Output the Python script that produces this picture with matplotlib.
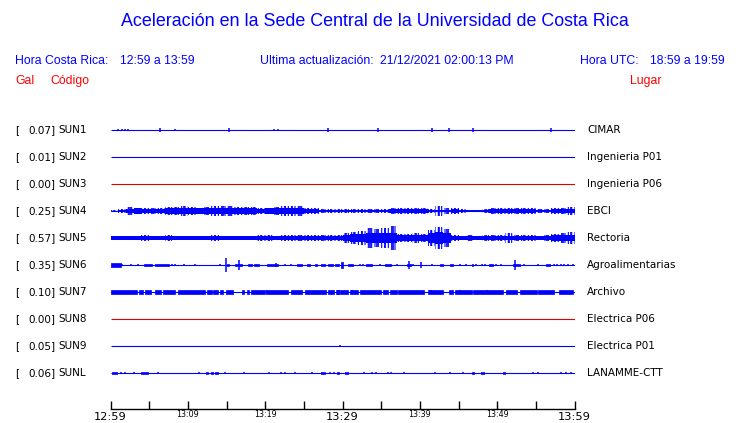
import numpy as np
import matplotlib
matplotlib.use("Agg")
import matplotlib.pyplot as plt

# ---------------- data ----------------
title = "Aceleración en la Sede Central de la Universidad de Costa Rica"
hora_cr = "12:59 a 13:59"
hora_utc = "18:59 a 19:59"
actualizacion = "21/12/2021 02:00:13 PM"

codes = ["SUN1", "SUN2", "SUN3", "SUN4", "SUN5", "SUN6", "SUN7", "SUN8", "SUN9", "SUNL"]
gal = [0.07, 0.01, 0.00, 0.25, 0.57, 0.35, 0.10, 0.00, 0.05, 0.06]
places = ["CIMAR", "Ingenieria P01", "Ingenieria P06", "EBCI", "Rectoria",
          "Agroalimentarias", "Archivo", "Electrica P06", "Electrica P01", "LANAMME-CTT"]
trace_colors = ["blue", "blue", "red", "blue", "blue", "blue", "blue", "red", "blue", "blue"]

minor_ticks = [0, 5, 10, 15, 20, 25, 30, 35, 40, 45, 50, 55, 60]
big_labels = {0: "12:59", 30: "13:29", 60: "13:59"}
small_labels = {10: "13:09", 20: "13:19", 40: "13:39", 50: "13:49"}

# per-minute envelope (half amplitude, relative units) for dense traces
sun4_band = [1, 2, 7, 8, 7, 7, 7, 8, 8, 8, 8, 8, 9, 10, 10, 9, 8, 8, 8, 7,
             8, 8, 9, 9, 9, 7, 5, 4, 4, 4, 4, 4, 4, 4, 4, 4, 5, 7, 7, 7,
             7, 4, 3, 4, 6, 4, 2, 2, 3, 7, 7, 7, 7, 7, 6, 4, 4, 5, 7, 7]
sun4_peak = [3, 6, 12, 10, 9, 10, 9, 11, 12, 14, 12, 10, 13, 16, 16, 14, 12, 12, 11, 8,
             10, 12, 14, 14, 15, 10, 8, 6, 6, 6, 7, 6, 7, 7, 6, 7, 8, 10, 10, 9,
             10, 6, 14, 8, 8, 5, 4, 4, 5, 10, 10, 10, 9, 10, 8, 5, 5, 8, 10, 12]
sun5_band = [5, 5, 5, 5, 5, 5, 5, 5, 5, 5, 5, 5, 5, 5, 5, 5, 5, 5, 5, 5,
             5, 5, 5, 5, 5, 6, 7, 7, 7, 7, 10, 11, 12, 14, 15, 16, 15, 9, 9, 9,
             9, 16, 18, 16, 5, 5, 5, 5, 5, 5, 6, 6, 5, 5, 5, 5, 5, 8, 9, 10]
sun5_peak = [7, 7, 6, 7, 8, 6, 7, 8, 6, 7, 6, 6, 7, 8, 7, 6, 7, 7, 7, 8,
             8, 7, 8, 10, 9, 8, 10, 9, 10, 10, 14, 18, 20, 30, 28, 30, 36, 12, 12, 14,
             13, 24, 34, 26, 8, 7, 8, 7, 8, 8, 10, 16, 8, 8, 8, 7, 8, 12, 14, 18]

# sparse events: (start minute, end minute, half amplitude)
sun1_events = [(0.95, 0.95, 2), (1.5, 1.5, 4), (1.85, 1.85, 4), (2.24, 2.24, 4), (6.37, 6.37, 5),
               (8.3, 8.3, 2), (15.27, 15.27, 5), (21.08, 21.08, 4), (21.6, 21.6, 4), (28.17, 28.17, 5),
               (34.6, 34.6, 5), (41.6, 41.6, 5), (43.8, 43.8, 5), (46.9, 46.9, 5), (57.0, 57.0, 5)]
sun6_events = [(0.1, 1.3, 5), (1.5, 1.5, 3), (2.6, 2.6, 3), (3.5, 3.5, 2), (4.3, 5.4, 3), (5.8, 7.5, 3),
               (8.0, 8.0, 3), (8.3, 8.3, 3), (9.5, 9.5, 3), (10.9, 10.9, 3), (14.2, 14.2, 2),
               (14.9, 14.9, 22), (15.1, 15.3, 4), (16.1, 17.0, 4), (16.6, 16.6, 16), (17.8, 18.3, 3),
               (18.6, 19.2, 3), (20.2, 21.7, 3), (21.4, 21.4, 5), (22.6, 22.6, 3), (23.4, 23.4, 3),
               (24.1, 24.7, 3), (25.4, 25.8, 3), (26.4, 26.7, 3), (27.2, 27.7, 3), (28.1, 28.8, 3),
               (29.0, 29.5, 4), (29.8, 30.1, 9), (30.7, 31.4, 3), (32.2, 32.2, 3), (32.7, 32.7, 3),
               (33.1, 33.8, 4), (34.8, 34.8, 3), (35.5, 36.3, 3), (37.1, 37.1, 3), (38.4, 38.9, 4),
               (38.6, 38.6, 12), (39.1, 39.1, 3), (40.1, 40.1, 8), (41.6, 41.6, 3), (42.6, 43.0, 3),
               (43.9, 44.3, 3), (45.2, 45.2, 3), (46.0, 46.0, 3), (46.7, 46.9, 3), (47.3, 47.3, 3),
               (48.0, 48.0, 3), (48.4, 48.4, 3), (49.0, 49.5, 3), (49.9, 49.9, 3), (50.5, 50.5, 3),
               (52.0, 52.9, 4), (52.3, 52.3, 16), (53.5, 53.5, 3), (55.3, 55.3, 3), (56.3, 56.8, 3),
               (57.4, 57.4, 3), (57.8, 57.8, 3), (58.2, 58.2, 3), (58.6, 58.6, 3), (59.1, 59.1, 3),
               (59.8, 59.8, 3)]
sun7_events = [(0.0, 3.4, 5), (3.7, 4.2, 5), (4.4, 5.3, 5), (5.7, 6.5, 5), (6.8, 8.4, 5), (8.7, 12.2, 5),
               (12.5, 13.1, 5), (13.3, 13.9, 5), (14.2, 14.6, 5), (14.9, 15.9, 5), (17.0, 17.2, 5),
               (17.6, 17.9, 5), (18.2, 20.0, 5), (20.1, 23.0, 5), (23.4, 24.7, 5), (25.2, 27.9, 5),
               (28.1, 28.9, 5), (29.2, 29.6, 5), (29.7, 30.7, 5), (31.0, 32.0, 5), (32.3, 35.0, 5),
               (35.2, 35.9, 5), (36.1, 37.0, 5), (37.2, 40.6, 5), (41.1, 43.0, 5), (43.8, 44.3, 5),
               (44.6, 46.7, 5), (46.9, 50.8, 5), (51.2, 52.5, 5), (52.9, 55.1, 5), (55.3, 57.4, 5),
               (58.0, 59.8, 5), (20.2, 20.2, 7), (29.3, 29.5, 7), (31.2, 31.2, 7), (41.5, 41.5, 7),
               (45.2, 45.2, 7), (48.7, 48.7, 7)]
sun9_events = [(29.7, 29.7, 2), (31.5, 31.5, 1)]
sunl_events = [(0.2, 0.9, 3), (1.4, 1.4, 2), (1.85, 1.85, 2), (3.0, 3.0, 2), (4.0, 4.9, 3), (6.1, 6.1, 2),
               (11.5, 11.5, 2), (12.4, 12.6, 3), (13.0, 13.2, 3), (13.5, 13.9, 3), (14.8, 14.8, 2),
               (17.3, 17.3, 2), (20.5, 20.5, 2), (22.1, 22.1, 2), (22.5, 22.5, 2), (23.8, 23.8, 2),
               (26.1, 26.1, 2), (27.2, 27.7, 3), (28.4, 28.4, 2), (28.9, 28.9, 2), (29.3, 29.5, 2),
               (30.3, 30.7, 3), (32.8, 32.8, 2), (33.8, 33.8, 2), (34.3, 34.3, 2), (35.9, 35.9, 2),
               (36.3, 36.3, 2), (38.0, 38.0, 2), (42.0, 42.0, 2), (43.9, 43.9, 2), (45.6, 45.6, 2),
               (46.7, 47.0, 2), (47.9, 48.3, 3), (50.8, 51.0, 2), (54.6, 54.6, 2), (55.3, 55.3, 2),
               (58.3, 58.3, 2), (58.9, 58.9, 2), (59.5, 59.5, 2)]

# ---------------- figure ----------------
plt.rcParams["hatch.linewidth"] = 0.8
W, H = 740, 423
fig = plt.figure(figsize=(W / 100, H / 100), dpi=100)
fig.patch.set_facecolor("white")

def fx(x):
    return x / W

def fy(y):
    return 1 - y / H

BLUE = "#0000ff"
RED = "#ff0000"
TRACE_RED = "#e00000"
hdr = dict(family=["Liberation Sans", "DejaVu Sans"], fontsize=8.8, va="center")

fig.text(fx(375), fy(22), title, color=BLUE, ha="center", va="center",
         family=["Liberation Sans", "DejaVu Sans"], fontsize=12.9)
fig.text(fx(15), fy(61), "Hora Costa Rica:", color=BLUE, ha="left", **hdr)
fig.text(fx(120.5), fy(61), hora_cr, color=BLUE, ha="left", **hdr)
fig.text(fx(260.5), fy(61), "Ultima actualización:", color=BLUE, ha="left", **hdr)
fig.text(fx(380), fy(61), actualizacion, color=BLUE, ha="left", **hdr)
fig.text(fx(580.5), fy(61), "Hora UTC:", color=BLUE, ha="left", **hdr)
fig.text(fx(650.5), fy(61), hora_utc, color=BLUE, ha="left", **hdr)
fig.text(fx(15), fy(81), "Gal", color=RED, ha="left", **hdr)
fig.text(fx(50), fy(81), "Código", color=RED, ha="left", **hdr)
fig.text(fx(630), fy(81), "Lugar", color=RED, ha="left", **hdr)

# trace axes in pixel-like y units
AX_L, AX_R, AX_T, AX_B = 110.5, 574.5, 100, 409
ax = fig.add_axes([fx(AX_L), fy(AX_B), (AX_R - AX_L) / W, (AX_B - AX_T) / H])
ax.set_xlim(0, 60)
ax.set_ylim(AX_B, AX_T)
ROW0, ROWSTEP = 130, 27
UNIT = 1 / 3.0  # relative amplitude unit -> picture pixels

def row_y(i):
    return ROW0 + ROWSTEP * i

def draw_baseline(y, c):
    ax.plot([0, 60], [y, y], color=c, lw=0.8, solid_capstyle="butt")

def draw_dense(y, band, peak, c):
    edges = np.arange(len(band) + 1)
    p = np.array(peak + [peak[-1]]) * UNIT
    # hairy envelope texture up to the peak amplitude
    ax.fill_between(edges, y - p, y + p, step="post", facecolor="none", edgecolor=c,
                    hatch="|||||", lw=0)
    b = np.array(band + [band[-1]]) * UNIT
    ax.fill_between(edges, y - b, y + b, step="post", color=c, lw=0, antialiased=False)
    centers = np.arange(len(peak)) + 0.5
    ax.vlines(centers, y - p[:-1], y + p[:-1], color=c, lw=1.2)

def draw_events(y, events, c):
    for s, e, a in events:
        if e > s:
            ax.fill_between([s, e], y - a * UNIT, y + a * UNIT, color=c, lw=0.5,
                            edgecolor=c, antialiased=False)
        else:
            ax.vlines([s], y - a * UNIT, y + a * UNIT, color=c, lw=1.1)

events_by_code = {"SUN1": sun1_events, "SUN6": sun6_events, "SUN7": sun7_events,
                  "SUN9": sun9_events, "SUNL": sunl_events}

for i, code in enumerate(codes):
    y = row_y(i)
    c = BLUE if trace_colors[i] == "blue" else TRACE_RED
    draw_baseline(y, c)
    if code == "SUN4":
        draw_dense(y, sun4_band, sun4_peak, c)
    elif code == "SUN5":
        draw_dense(y, sun5_band, sun5_peak, c)
    elif code in events_by_code:
        draw_events(y, events_by_code[code], c)

    # labels
    fig.text(fx(15), fy(y), "[", ha="left", va="center", fontsize=7.5, color="black")
    fig.text(fx(55.5), fy(y), f"{gal[i]:.2f}]", ha="right", va="center", fontsize=7.5, color="black")
    fig.text(fx(58.5), fy(y), code, ha="left", va="center", fontsize=7.5, color="black")
    fig.text(fx(587), fy(y), places[i], ha="left", va="center", fontsize=7.5, color="black")

for s in ["top", "left", "right"]:
    ax.spines[s].set_visible(False)
ax.spines["bottom"].set_linewidth(1.0)
ax.set_yticks([])
ax.set_xticks(minor_ticks)
ax.set_xticklabels([])
ax.tick_params(axis="x", direction="in", length=6, width=1.0, color="black")
ax.set_facecolor("none")

for m, lab in big_labels.items():
    t = ax.text(m, 420, lab, ha="center", va="baseline", fontsize=8.2, color="black")
    t.set_clip_on(False)
for m, lab in small_labels.items():
    t = ax.text(m, 417, lab, ha="center", va="baseline", fontsize=5.8, color="black")
    t.set_clip_on(False)

fig.savefig("out.png", dpi=100, facecolor="white")
